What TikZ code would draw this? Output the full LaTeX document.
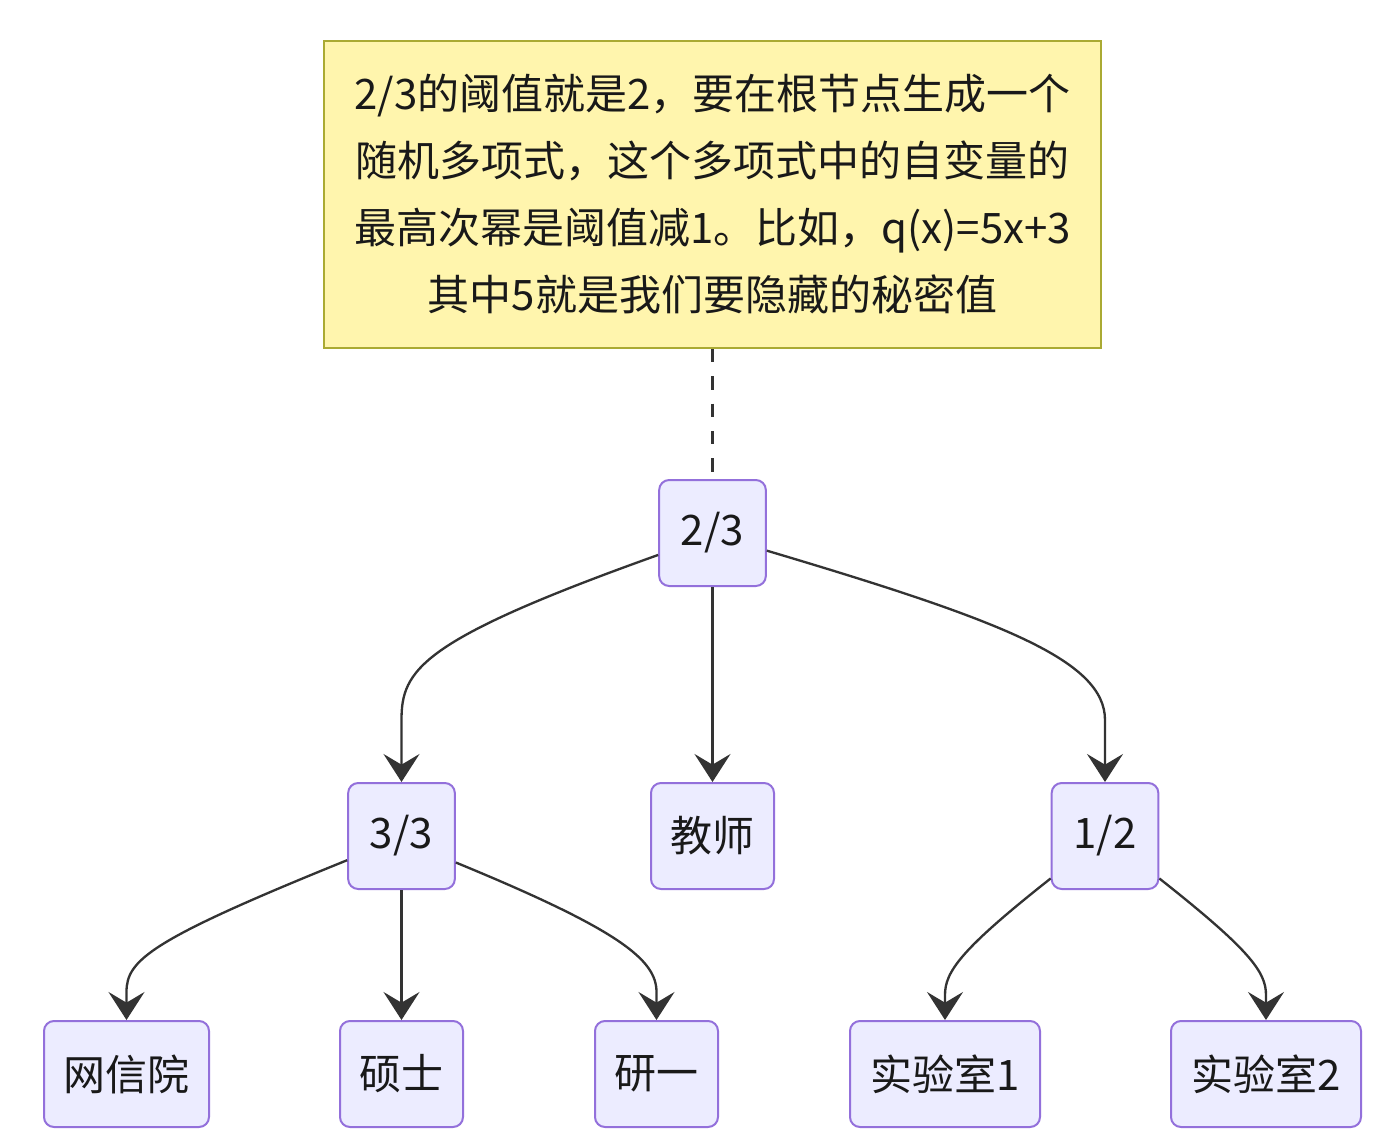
\documentclass[tikz,border=0pt]{standalone}
\usepackage{fontspec}
\setmainfont{Noto Sans CJK SC}
\usetikzlibrary{arrows.meta}
\definecolor{boxfill}{HTML}{ECECFF}
\definecolor{boxline}{HTML}{9370DB}
\definecolor{notefill}{HTML}{FFF5AD}
\definecolor{noteline}{HTML}{AAAA33}
\definecolor{edgecol}{HTML}{333333}
\begin{document}
\begin{tikzpicture}[x=0.75pt, y=-0.75pt,
    every node/.style={font=\fontsize{31.5}{50.25}\selectfont, text=black!90},
    treebox/.style={draw=boxline, fill=boxfill, line width=1.5pt, rounded corners=7.5pt,
                    minimum height=79.5pt, minimum width=#1, inner sep=0pt},
    treebox/.default=80pt,
    notebox/.style={draw=noteline, fill=notefill, line width=1.5pt,
                    minimum width=582.75pt, minimum height=230.25pt, align=center},
    edge/.style={draw=edgecol, line width=1.75pt,
                 -{Stealth[length=21pt, width=27pt, inset=8pt]}}]
  \useasboundingbox (0,0) rectangle (1390,1146);

  \node[notebox] (note) at (712.5,194.5)
    {2/3的阈值就是2，要在根节点生成一个\\
     随机多项式，这个多项式中的自变量的\\
     最高次幂是阈值减1。比如，q(x)=5x+3\\
     其中5就是我们要隐藏的秘密值};

  \node[treebox] (root) at (712.5,533) {2/3};
  \node[treebox] (th) at (401.5,836) {3/3};
  \node[treebox=92.25pt] (teacher) at (712.5,836) {教师};
  \node[treebox] (oh) at (1105,836) {1/2};
  \node[treebox=123.75pt] (wxy) at (126.5,1074) {网信院};
  \node[treebox=92.25pt] (ss) at (401.5,1074) {硕士};
  \node[treebox=92.25pt] (yy) at (656.5,1074) {研一};
  \node[treebox=142.5pt] (lab1) at (945,1074) {实验室1};
  \node[treebox=142.5pt] (lab2) at (1266,1074) {实验室2};

  \draw[draw=edgecol, line width=2pt, dash pattern=on 10pt off 10.5pt] (note) -- (root);

  \draw[edge] (root.202) .. controls (420,640) and (401.5,670) .. (401.5,720) -- (th);
  \draw[edge] (root) -- (teacher);
  \draw[edge] (root.342) .. controls (1000,620) and (1105,660) .. (1105,720) -- (oh);

  \draw[edge] (th.204) .. controls (150,940) and (126.5,960) .. (126.5,992) -- (wxy);
  \draw[edge] (th) -- (ss);
  \draw[edge] (th.334) .. controls (620,930) and (656.5,960) .. (656.5,992) -- (yy);

  \draw[edge] (oh.218) .. controls (960,950) and (945,972) .. (945,995) -- (lab1);
  \draw[edge] (oh.322) .. controls (1250,950) and (1266,972) .. (1266,995) -- (lab2);
\end{tikzpicture}
\end{document}
